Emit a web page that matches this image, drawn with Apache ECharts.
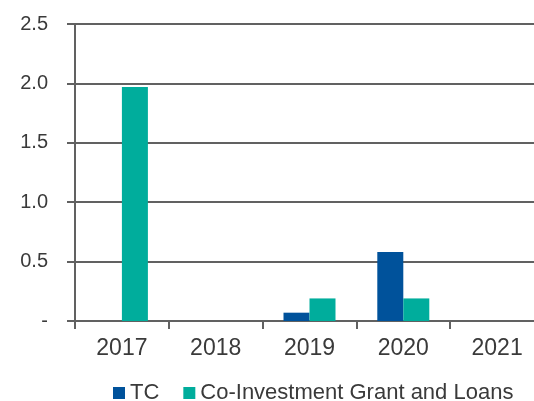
<!DOCTYPE html>
<html>
<head>
<meta charset="utf-8">
<script src="https://cdn.jsdelivr.net/npm/echarts@6/dist/echarts.min.js"></script>
<style>
  html, body { margin: 0; padding: 0; background: #fff; }
  #chart { width: 534px; height: 401px; }
</style>
</head>
<body>
<div id="chart"></div>
<script>
// data
const years = ['2017', '2018', '2019', '2020', '2021']
const tcValues = [0, 0, 0.07, 0.58, 0]
const coInvestValues = [1.97, 0, 0.19, 0.19, 0]
const seriesNames = ['TC', 'Co-Investment Grant and Loans']

const axisColor = '#616161'
const textColor = '#3a3a3a'
const font = 'Liberation Sans'

const chart = echarts.init(document.getElementById('chart'))

const option = {
  animation: false,
  textStyle: { fontFamily: font },
  // plot runs past the right edge in the original, so the width is fixed
  grid: { left: 75, width: 469, top: 24, height: 297, containLabel: false, outerBoundsMode: 'none' },
  legend: {
    top: 377,
    left: 108,
    itemWidth: 12,
    itemHeight: 12,
    itemGap: 24,
    icon: 'rect',
    textStyle: { color: textColor, fontSize: 22, fontFamily: font },
    data: seriesNames
  },
  xAxis: {
    type: 'category',
    data: years,
    axisLine: { lineStyle: { color: axisColor, width: 2 } },
    axisTick: { show: true, alignWithLabel: false, length: 8, lineStyle: { color: axisColor, width: 2 } },
    axisLabel: { color: textColor, fontSize: 23, margin: 16, fontFamily: font }
  },
  yAxis: {
    type: 'value',
    min: 0,
    max: 2.5,
    interval: 0.5,
    axisLine: { show: true, lineStyle: { color: axisColor, width: 2 } },
    axisTick: { show: true, length: 8, lineStyle: { color: axisColor, width: 2 } },
    splitLine: { show: true, lineStyle: { color: axisColor, width: 2 } },
    axisLabel: {
      color: textColor,
      fontSize: 20,
      margin: 27,
      fontFamily: font,
      formatter: v => (v === 0 ? '-' : v.toFixed(1))
    }
  },
  series: [
    {
      name: seriesNames[0],
      type: 'bar',
      data: tcValues,
      barWidth: 26,
      barGap: '0%',
      itemStyle: { color: '#00529b' }
    },
    {
      name: seriesNames[1],
      type: 'bar',
      data: coInvestValues,
      barWidth: 26,
      itemStyle: { color: '#00ad9c' }
    }
  ]
}

chart.setOption(option)
</script>
</body>
</html>
